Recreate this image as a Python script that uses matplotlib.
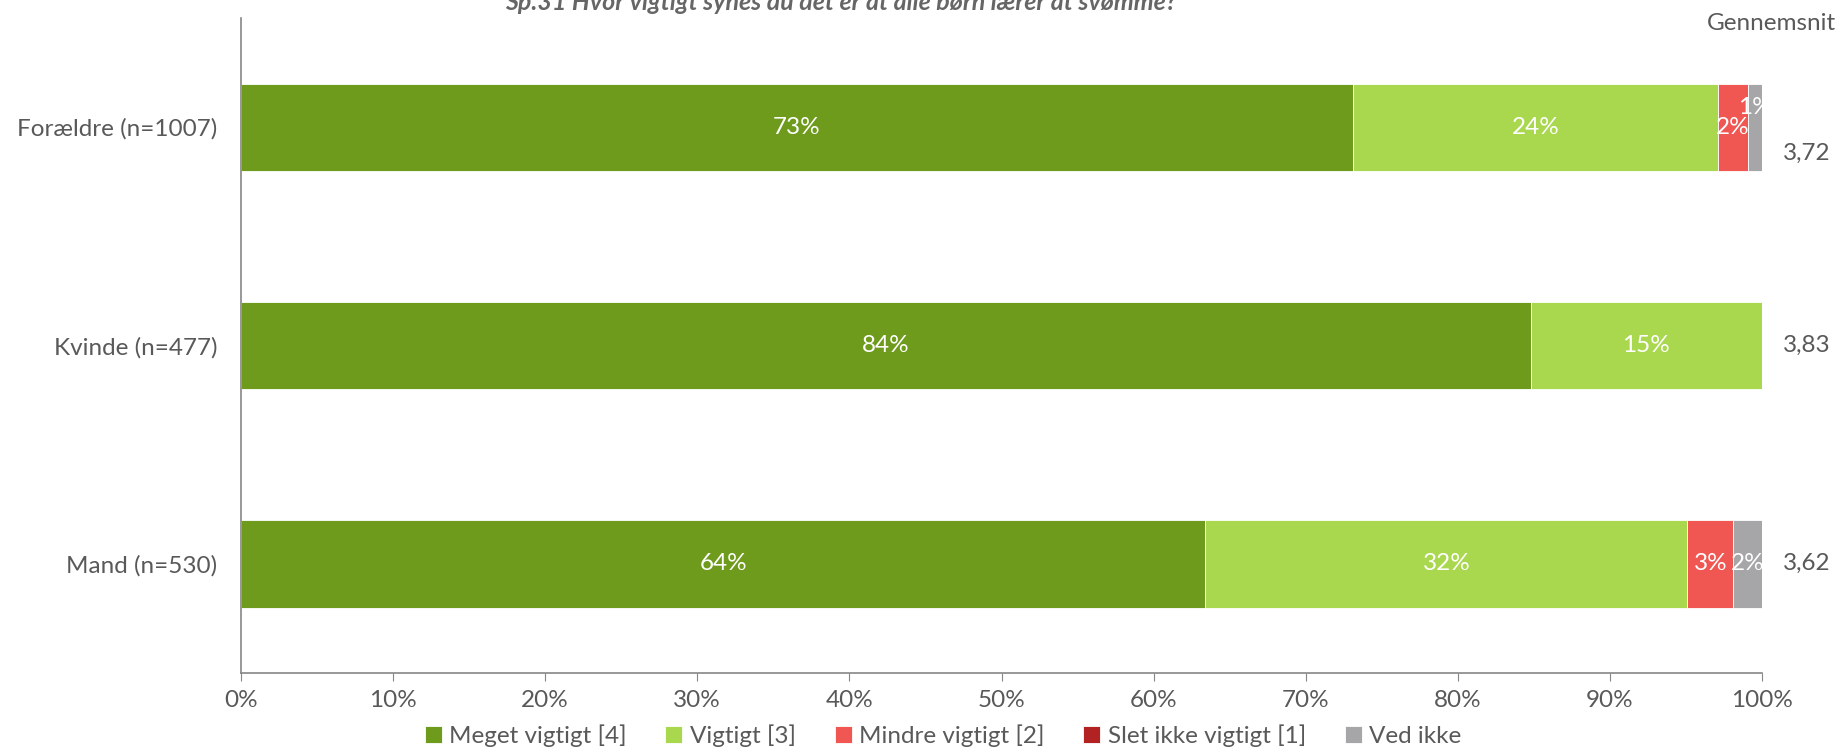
import matplotlib
matplotlib.use("Agg")
import matplotlib.pyplot as plt
import numpy as np

plt.rcParams['font.family'] = ['Lato', 'DejaVu Sans']

categories = ["Forældre (n=1007)", "Kvinde (n=477)", "Mand (n=530)"]
series_names = ["Meget vigtigt [4]", "Vigtigt [3]", "Mindre vigtigt [2]",
                "Slet ikke vigtigt [1]", "Ved ikke"]
meget = [73.1, 84.8, 63.4]
vigtigt = [24.0, 15.2, 31.7]
mindre = [2.0, 0.0, 3.0]
slet = [0.0, 0.0, 0.0]
ved_ikke = [0.9, 0.0, 1.9]
label_meget = ["73%", "84%", "64%"]
label_vigtigt = ["24%", "15%", "32%"]
label_mindre = ["2%", "", "3%"]
label_slet = ["", "", ""]
label_ved = ["1%", "", "2%"]
gennemsnit = ["3,72", "3,83", "3,62"]
xticks = [0, 10, 20, 30, 40, 50, 60, 70, 80, 90, 100]
title = "Sp.31 Hvor vigtigt synes du det er at alle børn lærer at svømme?"

colors = ["#6E9B1C", "#A9D84F", "#F05652", "#B22222", "#A6A6A9"]
txt = "#595959"
fs = 17.5

W, H = 1841, 751
fig = plt.figure(figsize=(W/100, H/100), dpi=100)
ax = fig.add_axes([241/W, 1-673/H, (1762-241)/W, (673-18)/H])

series = [meget, vigtigt, mindre, slet, ved_ikke]
labels = [label_meget, label_vigtigt, label_mindre, label_slet, label_ved]
y = np.arange(len(categories))
left = np.zeros(len(categories))
for i, (vals, lab) in enumerate(zip(series, labels)):
    vals = np.array(vals)
    ax.barh(y, vals, left=left, height=0.4, color=colors[i], label=series_names[i],
            edgecolor="white", linewidth=0.6)
    for j in range(len(categories)):
        if lab[j]:
            dy = 0
            if i == 4 and j == 0:
                dy = -0.09
            ax.text(left[j] + vals[j]/2, y[j] + dy, lab[j], ha="center", va="center",
                    color="white", fontsize=fs)
    left = left + vals

ax.set_ylim(2.5, -0.5)
ax.set_xlim(0, 100)
ax.set_yticks(y)
ax.set_yticklabels(categories, fontsize=fs, color=txt)
ax.set_xticks(xticks)
ax.set_xticklabels([f"{t}%" for t in xticks], fontsize=fs, color=txt)
ax.tick_params(axis="y", length=0, pad=17)
ax.tick_params(axis="x", length=6, color="#868686", pad=6)
for s in ["top", "right"]:
    ax.spines[s].set_visible(False)
for s in ["left", "bottom"]:
    ax.spines[s].set_color("#868686")
    ax.spines[s].set_linewidth(1.2)

gy = [0.12, 0, 0]
for j, g in enumerate(gennemsnit):
    ax.text(101.4, y[j] + gy[j], g, ha="left", va="center", fontsize=fs, color=txt)
fig.text(1836/W, 1-24/H, "Gennemsnit", ha="right", va="center", fontsize=fs, color=txt)
fig.text(841/W, 1-2/H, title, ha="center", va="center", fontsize=18,
         fontweight="bold", fontstyle="italic", color="#666666")

fig.legend(loc="center", bbox_to_anchor=(943/W, 1-736/H), ncol=5, frameon=False,
           fontsize=fs, handlelength=0.7, handleheight=0.7, handletextpad=0.3,
           columnspacing=1.6, labelcolor=txt)

fig.savefig("out.png", dpi=100)
